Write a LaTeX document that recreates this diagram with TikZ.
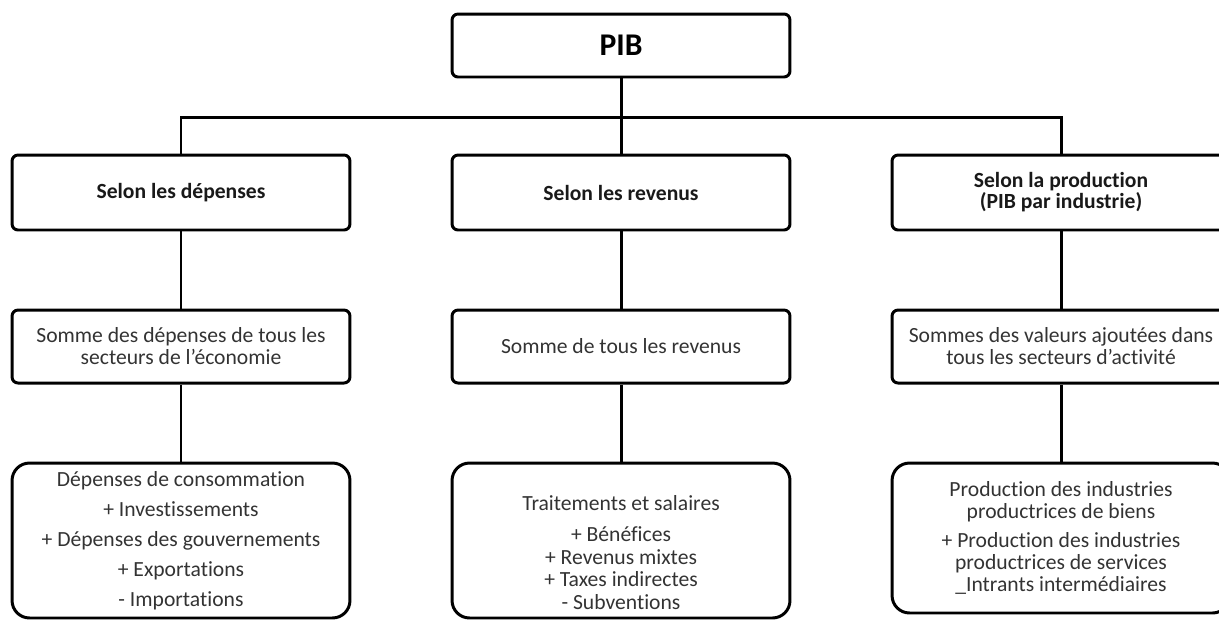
\documentclass[tikz,border=0pt]{standalone}
\usepackage{fontspec}
\setmainfont{Carlito}[Ligatures=NoCommon]
\begin{document}
\begin{tikzpicture}[x=0.02cm,y=-0.02cm,
    box/.style={draw,line width=1.7pt,rounded corners=0.12cm,minimum width=6.76cm,align=center,text=black!80},
    head/.style={box,minimum height=1.5cm,font=\fontsize{12.3}{12}\selectfont\bfseries,text=black!90},
    sumbox/.style={box,minimum height=1.46cm,font=\fontsize{12.3}{12.5}\selectfont},
    detail/.style={box,rounded corners=0.35cm,font=\fontsize{12.3}{12}\selectfont},
    link/.style={line width=1.7pt}]
  \clip (0,0) rectangle (1219,620);
  \node[box,minimum height=1.26cm,font=\fontsize{18}{20}\selectfont\bfseries,text=black] (pib) at (621,45.5) {PIB};
  \coordinate (bus) at (621,117);
  % niveau 1
  \node[head] (dep) at (181,192.5) {Selon les dépenses};
  \node[head] (rev) at (621,192.5) {Selon les revenus};
  \node[head] (prod) at (1061,192.5) {Selon la production\\(PIB par industrie)};
  % niveau 2
  \node[sumbox] (depsum) at (181,346.5) {Somme des dépenses de tous les\\secteurs de l’économie};
  \node[sumbox] (revsum) at (621,346.5) {Somme de tous les revenus};
  \node[sumbox] (prodsum) at (1061,346.5) {Sommes des valeurs ajoutées dans\\tous les secteurs d’activité};
  % niveau 3
  \node[detail,minimum height=3.1cm,font=\fontsize{12.3}{17}\selectfont] (depdet) at (181,540.5)
    {Dépenses de consommation\\+ Investissements\\+ Dépenses des gouvernements\\+ Exportations\\- Importations};
  \node[detail,minimum height=3.1cm,font=\fontsize{12.3}{12.8}\selectfont] (revdet) at (621,540.5)
    {\rule{0pt}{22pt}Traitements et salaires\\[5pt]+ Bénéfices\\+ Revenus mixtes\\+ Taxes indirectes\\- Subventions};
  \node[detail,minimum height=3cm,font=\fontsize{12.3}{12.6}\selectfont] (proddet) at (1061,538)
    {Production des industries\\productrices de biens\\[4pt]+ Production des industries\\productrices de services\\\_Intrants intermédiaires};
  \draw[link] (pib) -- (bus);
  \draw[link] (dep.north) |- (bus) -| (prod.north);
  \draw[link] (bus) -- (rev);
  \draw[link] (dep) -- (depsum);
  \draw[link] (rev) -- (revsum);
  \draw[link] (prod) -- (prodsum);
  \draw[link] (depsum) -- (depdet);
  \draw[link] (revsum) -- (revdet);
  \draw[link] (prodsum) -- (proddet);
\end{tikzpicture}
\end{document}
